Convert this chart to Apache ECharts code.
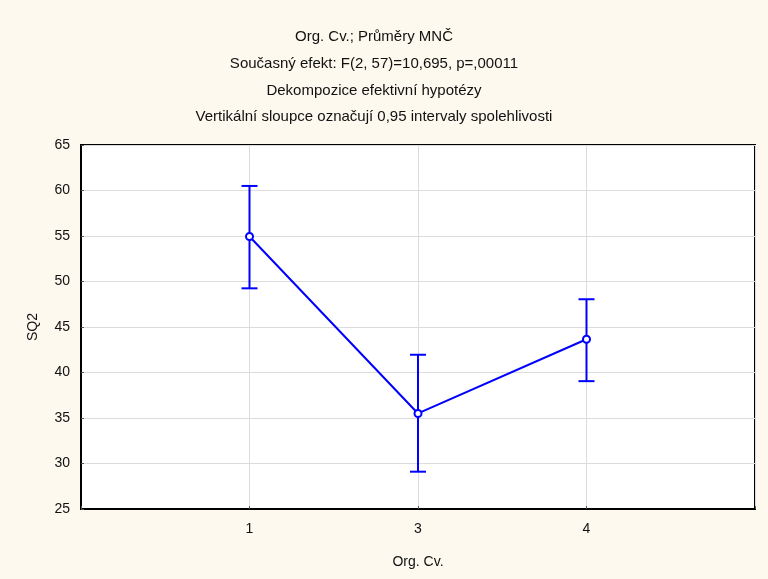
<!DOCTYPE html>
<html><head><meta charset="utf-8">
<script src="https://cdn.jsdelivr.net/npm/echarts@6/dist/echarts.min.js"></script>
<style>html,body{margin:0;padding:0;background:#FDF9EE}#c{width:768px;height:579px}</style>
</head><body><div id="c"></div>
<script>
const titles = ['Org. Cv.; Průměry MNČ','Současný efekt: F(2, 57)=10,695, p=,00011','Dekompozice efektivní hypotézy','Vertikální sloupce označují 0,95 intervaly spolehlivosti'];
const categories = ['1','3','4'];
const means = [54.95, 35.5, 43.65];
const lower = [49.25, 29.1, 39.05];
const upper = [60.5, 41.95, 48.05];
const xName = 'Org. Cv.';
const yName = 'SQ2';

const axisCats = [''].concat(categories, ['']);
const font = 'Liberation Sans, Arial, sans-serif';
const chart = echarts.init(document.getElementById('c'));
chart.setOption({
  backgroundColor: '#FDF9EE',
  animation: false,
  graphic: titles.map((t, i) => ({
    type: 'text', x: 374, y: 37 + i * 26.7,
    style: { text: t, fontFamily: font, fontSize: 15, fill: '#111', textAlign: 'center', textVerticalAlign: 'middle' }
  })),
  grid: { left: 81, right: 13, top: 145, bottom: 70, show: true, backgroundColor: '#fff', borderColor: '#000', borderWidth: 2 },
  xAxis: {
    type: 'category', data: axisCats, boundaryGap: false,
    name: xName, nameLocation: 'middle', nameGap: 46,
    nameTextStyle: { fontFamily: font, fontSize: 14, color: '#111' },
    axisLine: { lineStyle: { color: '#000', width: 2 } },
    axisTick: { show: true, inside: true, length: 3, lineStyle: { color: '#555' } },
    axisLabel: { fontFamily: font, fontSize: 14, color: '#111', margin: 13 },
    splitLine: { show: true, lineStyle: { color: '#dcdcdc', width: 1 } }
  },
  yAxis: {
    type: 'value', min: 25, max: 65, interval: 5,
    name: yName, nameLocation: 'middle', nameGap: 41,
    nameTextStyle: { fontFamily: font, fontSize: 14, color: '#111' },
    axisLine: { show: true, lineStyle: { color: '#000', width: 2 } },
    axisTick: { show: true, inside: true, length: 3, lineStyle: { color: '#555' } },
    axisLabel: { fontFamily: font, fontSize: 14, color: '#111', margin: 11 },
    splitLine: { show: true, lineStyle: { color: '#dcdcdc', width: 1 } }
  },
  series: [
    {
      type: 'line', data: categories.map((c, i) => [c, means[i]]),
      symbol: 'emptyCircle', symbolSize: 7, z: 3,
      lineStyle: { color: '#0000FF', width: 2 },
      itemStyle: { color: '#0000FF', borderWidth: 1.8 }
    },
    {
      type: 'custom', z: 2,
      data: categories.map((c, i) => [c, lower[i], upper[i]]),
      renderItem: function (params, api) {
        const lo = api.coord([api.value(0), api.value(1)]);
        const hi = api.coord([api.value(0), api.value(2)]);
        const w = 8;
        const st = { stroke: '#0000FF', lineWidth: 2 };
        return { type: 'group', children: [
          { type: 'line', shape: { x1: lo[0], y1: lo[1], x2: hi[0], y2: hi[1] }, style: st },
          { type: 'line', shape: { x1: lo[0] - w, y1: lo[1], x2: lo[0] + w, y2: lo[1] }, style: st },
          { type: 'line', shape: { x1: hi[0] - w, y1: hi[1], x2: hi[0] + w, y2: hi[1] }, style: st }
        ]};
      }
    }
  ]
});
</script></body></html>
